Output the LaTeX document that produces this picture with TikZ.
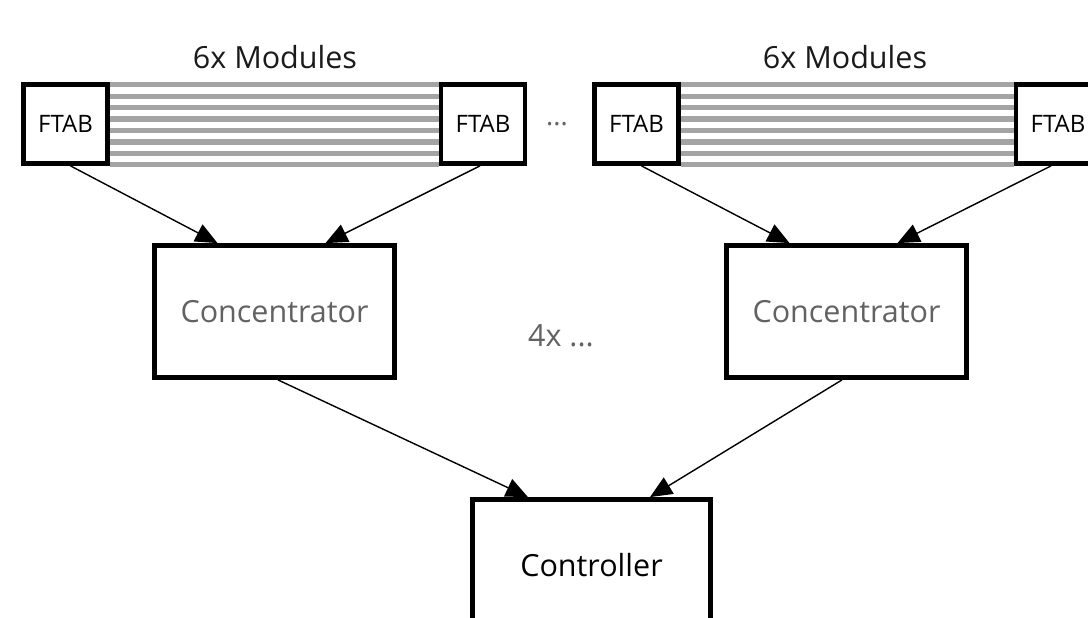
\documentclass[tikz,border=0pt]{standalone}
\usepackage{fontspec}
\setmainfont{Open Sans}
\usetikzlibrary{arrows.meta}
\definecolor{stripegray}{HTML}{A4A4A4}
\definecolor{softtext}{HTML}{626262}
\definecolor{darktext}{HTML}{1A1A1A}
\tikzset{
  ftab/.style={draw=black, line width=4.8pt, fill=white, minimum width=84pt,
    minimum height=79pt, inner sep=0pt, font=\fontsize{24}{28}\selectfont},
  bigbox/.style={draw=black, line width=4.8pt, fill=white, minimum width=240pt,
    minimum height=132pt, inner sep=0pt, font=\fontsize{30.5}{36}\selectfont},
  caption/.style={font=\fontsize{30.5}{36}\selectfont, inner sep=0pt},
  stripeline/.style={draw=stripegray, line width=5.2pt},
  link/.style={draw=black, line width=1.4pt, -{Triangle[length=22pt,width=19pt]}}
}
\begin{document}
\begin{tikzpicture}[x=1pt,y=-1pt]
\useasboundingbox (0,0) rectangle (1088,618);
\clip (0,0) rectangle (1088,618);
\fill[white] (0,0) rectangle (1088,618);

% module headings
\node[caption, text=darktext] (mods1) at (275,57) {6x Modules};
\node[caption, text=darktext] (mods2) at (845,57) {6x Modules};

% FTAB boards at the ends of each module chain
\node[ftab] (f1) at (65.5,124) {FTAB};
\node[ftab] (f2) at (483,124) {FTAB};
\node[ftab] (f3) at (636.5,124) {FTAB};
\node[ftab] (f4) at (1058,124) {FTAB};

% flat cables between the boards
\foreach \i in {0,...,7} {
  \draw[stripeline] ([yshift=-2.8pt-11.4pt*\i]f1.north east) -- ([yshift=-2.8pt-11.4pt*\i]f2.north west);
  \draw[stripeline] ([yshift=-2.8pt-11.4pt*\i]f3.north east) -- ([yshift=-2.8pt-11.4pt*\i]f4.north west);
}

\node[font=\fontsize{27}{30}\selectfont, text=softtext, inner sep=0pt] (gap) at (557,124) {...};

% concentrators and controller
\node[bigbox, text=softtext] (c1) at (274.5,311.5) {Concentrator};
\node[bigbox, text=softtext] (c2) at (846.5,311.5) {Concentrator};
\node[caption, text=softtext] (more) at (561,336) {4x ...};
\node[bigbox, minimum width=238pt, text=black] (ctrl) at (591.5,565.5) {Controller};

% data links
\draw[link] ([xshift=5pt]f1.south) -- ([xshift=-57pt]c1.north);
\draw[link] ([xshift=-3pt]f2.south) -- ([xshift=51pt]c1.north);
\draw[link] ([xshift=5pt]f3.south) -- ([xshift=-57pt]c2.north);
\draw[link] ([xshift=-7pt]f4.south) -- ([xshift=51pt]c2.north);
\draw[link] ([xshift=3.5pt]c1.south) -- ([xshift=-63.5pt]ctrl.north);
\draw[link] ([xshift=-4.5pt]c2.south) -- ([xshift=58.5pt]ctrl.north);
\end{tikzpicture}
\end{document}
